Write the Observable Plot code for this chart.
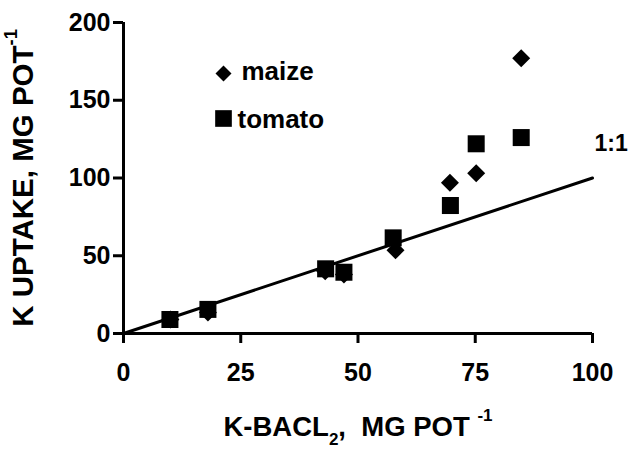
<!DOCTYPE html>
<html>
<head>
<meta charset="utf-8">
<script src="https://cdn.jsdelivr.net/npm/d3@7"></script>
<script src="https://cdn.jsdelivr.net/npm/@observablehq/plot@0.6"></script>
<style>
  html, body { margin: 0; padding: 0; background: white; }
</style>
</head>
<body>
<div id="chart"></div>
<script>
// Data
const maizeX  = [10, 18, 43, 47, 58, 69.6, 75.2, 84.8];
const maizeY  = [9, 13.5, 40, 38, 53.5, 97, 103, 177];
const tomatoX = [9.9, 18, 43.1, 47, 57.5, 69.7, 75.2, 84.8];
const tomatoY = [9, 15.5, 41.6, 39.4, 61.5, 82.3, 122, 126];

const lineX = [0, 100];
const lineY = [0, 100];
const lineLabel = "1:1";
const lineLabelX = 100;
const lineLabelY = 122;

const xTicks = [0, 25, 50, 75, 100];
const yTicks = [0, 50, 100, 150, 200];

const legendLabels = ["maize", "tomato"];
// titles: plain text used for layout, rich parts for sub/superscripts
const xTitle = "K-BACL2,  MG POT -1";
const xTitleParts = [["K-BACL", ""], ["2", "sub"], [",  MG POT ", ""], ["-1", "sup"]];
const yTitle = "K UPTAKE, MG POT-1";
const yTitleParts = [["K UPTAKE, MG POT", ""], ["-1", "sup"]];

const maize = maizeX.map((x, i) => ({x, y: maizeY[i]}));
const tomato = tomatoX.map((x, i) => ({x, y: tomatoY[i]}));
const oneToOne = lineX.map((x, i) => ({x, y: lineY[i]}));

const font = "'Liberation Sans', Arial, Helvetica, sans-serif";

const chart = Plot.plot({
  width: 634,
  height: 454,
  marginLeft: 123,
  marginRight: 42,
  marginTop: 22,
  marginBottom: 121,
  style: {fontFamily: font, background: "white", color: "black"},
  x: {domain: [0, 100]},
  y: {domain: [0, 200]},
  marks: [
    Plot.axisX({ticks: xTicks, tickSize: 10, tickPadding: 20, strokeWidth: 3,
      fontSize: 25, fontWeight: "bold", label: null}),
    Plot.axisY({ticks: yTicks, tickSize: 10, tickPadding: 3, strokeWidth: 3,
      fontSize: 25, fontWeight: "bold", label: null}),
    Plot.ruleY([0], {x1: 0, x2: 100, strokeWidth: 3}),
    Plot.ruleX([0], {y1: 0, y2: 200, strokeWidth: 3}),
    Plot.line(oneToOne, {x: "x", y: "y", strokeWidth: 3, stroke: "black"}),
    Plot.text([lineLabel], {x: lineLabelX, y: lineLabelY, text: d => d, textAnchor: "start",
      dx: 2, fontSize: 23, fontWeight: "bold"}),
    Plot.dot(maize, {x: "x", y: "y", symbol: "diamond2", r: 8.1, fill: "black", stroke: "none"}),
    Plot.dot(tomato, {x: "x", y: "y", symbol: "square", r: 9.6, fill: "black", stroke: "none"}),
    // legend
    Plot.dot([legendLabels[0]], {frameAnchor: "top-left", dx: 100, dy: 51, symbol: "diamond2", r: 7.2, fill: "black", stroke: "none"}),
    Plot.dot([legendLabels[1]], {frameAnchor: "top-left", dx: 100, dy: 96, symbol: "square", r: 9.4, fill: "black", stroke: "none"}),
    Plot.text([legendLabels[0]], {frameAnchor: "top-left", text: d => d, textAnchor: "start", lineAnchor: "middle", dx: 118, dy: 49.5, fontSize: 26, fontWeight: "bold"}),
    Plot.text([legendLabels[1]], {frameAnchor: "top-left", text: d => d, textAnchor: "start", lineAnchor: "middle", dx: 114, dy: 97, fontSize: 26, fontWeight: "bold"}),
    // axis titles
    Plot.text([xTitle], {frameAnchor: "bottom", text: d => d, textAnchor: "middle", lineAnchor: "middle", dy: 94, fontSize: 27.5, fontWeight: "bold"}),
    Plot.text([yTitle], {frameAnchor: "left", text: d => d, textAnchor: "middle", lineAnchor: "middle", dx: -100, rotate: -90, fontSize: 29.5, fontWeight: "bold"})
  ]
});

// Rebuild the titles with real sub/superscript tspans
function richify(svg, plain, parts) {
  d3.select(svg).selectAll("text").filter(function() { return this.textContent === plain; })
    .each(function() {
      const t = d3.select(this);
      t.text(null);
      let shift = 0;
      for (const [s, kind] of parts) {
        const target = kind === "sub" ? 0.3 : kind === "sup" ? -0.55 : 0;
        const ts = t.append("tspan").text(s);
        if (kind) ts.attr("font-size", "62%");
        const delta = target - shift;
        if (delta !== 0) ts.attr("dy", (kind ? delta / 0.62 : delta) + "em");
        shift = target;
      }
    });
}
richify(chart, xTitle, xTitleParts);
richify(chart, yTitle, yTitleParts);

document.getElementById("chart").appendChild(chart);
</script>
</body>
</html>
